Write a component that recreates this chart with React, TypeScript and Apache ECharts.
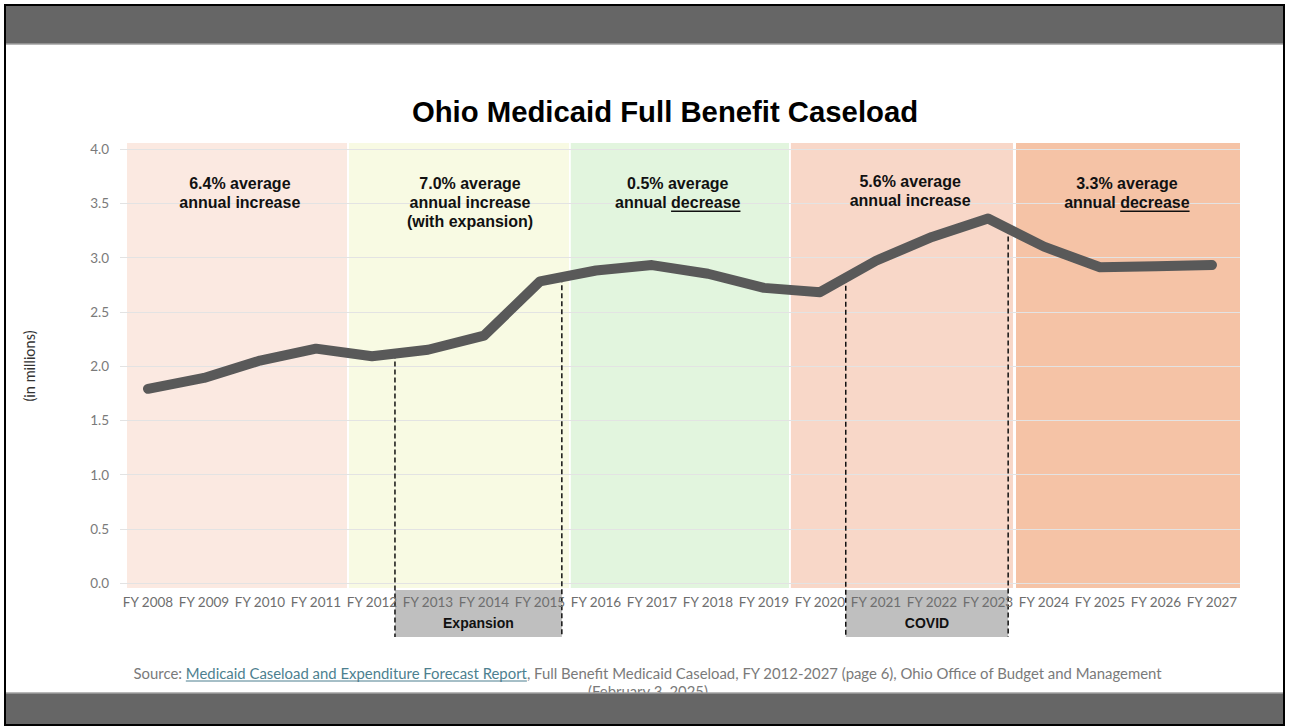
import React, { useEffect, useRef } from 'react';
import * as echarts from 'echarts';

const categories = [
  'FY 2008', 'FY 2009', 'FY 2010', 'FY 2011', 'FY 2012', 'FY 2013', 'FY 2014',
  'FY 2015', 'FY 2016', 'FY 2017', 'FY 2018', 'FY 2019', 'FY 2020', 'FY 2021',
  'FY 2022', 'FY 2023', 'FY 2024', 'FY 2025', 'FY 2026', 'FY 2027',
];
const caseload = [
  1.79, 1.89, 2.05, 2.16, 2.09, 2.15, 2.28, 2.78, 2.88, 2.93,
  2.85, 2.72, 2.68, 2.97, 3.19, 3.36, 3.10, 2.91, 2.92, 2.93,
];
const yMin = 0;
const yMax = 4;
const yInterval = 0.5;

const periodFrom = [-0.375, 3.59, 7.55, 11.48, 15.5];
const periodTo = [3.554, 7.518, 11.446, 15.446, 19.5];
const periodColors = ['#fbe9e1', '#f8fae3', '#e2f5de', '#f8d7c8', '#f5c3a6'];
const periodLabels = [
  ['6.4% average', 'annual increase'],
  ['7.0% average', 'annual increase', '(with expansion)'],
  ['0.5% average', 'annual |decrease'],
  ['5.6% average', 'annual increase'],
  ['3.3% average', 'annual |decrease'],
];
const periodLabelX = [1.64, 5.75, 9.46, 13.61, 17.48];
const periodLabelY = [3.68, 3.68, 3.68, 3.70, 3.68];

const eventNames = ['Expansion', 'COVID'];
const eventFrom = [4.41, 12.46];
const eventTo = [7.39, 15.36];

const titleText = 'Ohio Medicaid Full Benefit Caseload';
const yAxisName = '(in millions)';
const sourcePrefix = 'Source: ';
const sourceLink = 'Medicaid Caseload and Expenditure Forecast Report';
const sourceRest = ', Full Benefit Medicaid Caseload, FY 2012-2027 (page 6), Ohio Office of Budget and Management';
const sourceLine2 = '(February 3, 2025)';

const W = 1289;
const H = 728;

function measure(text: string, font: string): number {
  const c = document.createElement('canvas').getContext('2d');
  if (!c) return text.length * 7;
  c.font = font;
  return c.measureText(text).width;
}

function valueAt(x: number): number {
  const i = Math.max(0, Math.min(caseload.length - 2, Math.floor(x)));
  const t = x - i;
  return caseload[i] + (caseload[i + 1] - caseload[i]) * t;
}

export default function App() {
  const ref = useRef<HTMLDivElement>(null);
  useEffect(() => {
    if (!ref.current) return;
    const chart = echarts.init(ref.current, null, { renderer: 'svg' });
    chart.setOption({
      animation: false,
      backgroundColor: '#ffffff',
      grid: { left: 120, right: 49, top: 149, bottom: 145, containLabel: false },
      xAxis: [
        {
          type: 'category',
          data: categories,
          boundaryGap: true,
          axisLine: { show: false },
          axisTick: { show: false },
          axisLabel: { color: '#6e6e6e', fontFamily: 'Lato', fontSize: 13.5, margin: 12, interval: 0 },
          splitLine: { show: false },
          z: 3,
        },
        { type: 'value', min: -0.5, max: 19.5, show: false },
      ],
      yAxis: {
        type: 'value',
        min: yMin,
        max: yMax,
        interval: yInterval,
        name: yAxisName,
        nameLocation: 'middle',
        nameGap: 83,
        nameTextStyle: { color: '#333', fontFamily: 'Lato', fontSize: 14.5 },
        axisLine: { show: false },
        axisTick: { show: false },
        axisLabel: {
          color: '#7a7a7a',
          fontFamily: 'Lato',
          fontSize: 13.5,
          margin: 11,
          formatter: (v: number) => v.toFixed(1),
        },
        splitLine: { lineStyle: { color: '#e3e3e3', width: 1 } },
      },
      series: [
        {
          type: 'line',
          data: caseload,
          symbol: 'none',
          smooth: false,
          z: 4,
          lineStyle: { color: '#595959', width: 10, cap: 'round', join: 'round' },
        },
      ],
    });

    const px = (x: number) => chart.convertToPixel({ xAxisIndex: 1 }, x) as number;
    const py = (y: number) => chart.convertToPixel({ yAxisIndex: 0 }, y) as number;

    const elements: any[] = [];
    const top = py(yMax) - 6;
    const bottom = py(yMin) + 5;

    periodFrom.forEach((f, i) => {
      const x0 = px(f);
      const x1 = px(periodTo[i]);
      elements.push({
        type: 'rect',
        z: -5,
        silent: true,
        shape: { x: x0, y: top, width: x1 - x0, height: bottom - top },
        style: { fill: periodColors[i] },
      });
    });

    const labelFont = 'bold 16px "Liberation Sans", Arial, sans-serif';
    periodLabels.forEach((lines, i) => {
      const cx = px(periodLabelX[i]);
      const cy0 = py(periodLabelY[i]);
      lines.forEach((ln, j) => {
        const parts = ln.split('|');
        const full = parts.join('');
        const cy = cy0 + j * 19;
        elements.push({
          type: 'text',
          z: 20,
          silent: true,
          x: cx,
          y: cy,
          style: {
            text: full,
            fill: '#111',
            font: labelFont,
            align: 'center',
            verticalAlign: 'middle',
          },
        });
        if (parts.length > 1) {
          const wFull = measure(full, labelFont);
          const wU = measure(parts[1], labelFont);
          const xEnd = cx + wFull / 2;
          elements.push({
            type: 'line',
            z: 20,
            silent: true,
            shape: { x1: xEnd - wU, y1: cy + 8.5, x2: xEnd, y2: cy + 8.5 },
            style: { stroke: '#111', lineWidth: 1.5 },
          });
        }
      });
    });

    const boxTop = py(yMin) + 7;
    const boxBottom = py(yMin) + 54;
    eventNames.forEach((name, i) => {
      const x0 = px(eventFrom[i]);
      const x1 = px(eventTo[i]);
      elements.push({
        type: 'rect',
        z: -5,
        silent: true,
        shape: { x: x0, y: boxTop, width: x1 - x0, height: boxBottom - boxTop },
        style: { fill: '#bfbfbf' },
      });
      elements.push({
        type: 'text',
        z: 20,
        silent: true,
        x: (x0 + x1) / 2,
        y: boxTop + 33,
        style: {
          text: name,
          fill: '#111',
          font: 'bold 14px "Liberation Sans", Arial, sans-serif',
          align: 'center',
          verticalAlign: 'middle',
        },
      });
      [eventFrom[i], eventTo[i]].forEach((xv) => {
        const xp = px(xv);
        elements.push({
          type: 'line',
          z: 3,
          silent: true,
          shape: { x1: xp, y1: py(valueAt(xv)), x2: xp, y2: boxBottom },
          style: { stroke: '#111', lineWidth: 1.5, lineDash: [5, 3] },
        });
      });
    });

    // Title
    elements.push({
      type: 'text',
      z: 20,
      silent: true,
      x: 665,
      y: 111,
      style: {
        text: titleText,
        fill: '#000',
        font: 'bold 29.3px "Liberation Sans", Arial, sans-serif',
        align: 'center',
        verticalAlign: 'middle',
      },
    });

    // Source
    const srcFont = '14.9px Lato, sans-serif';
    const wPre = measure(sourcePrefix, srcFont);
    const wLink = measure(sourceLink, srcFont);
    const wRest = measure(sourceRest, srcFont);
    const wTotal = wPre + wLink + wRest;
    const sx = 648 - wTotal / 2;
    const sy = 673;
    elements.push({
      type: 'text', z: 20, silent: true, x: sx, y: sy,
      style: { text: sourcePrefix, fill: '#7a7a7a', font: srcFont, align: 'left', verticalAlign: 'middle' },
    });
    elements.push({
      type: 'text', z: 20, silent: true, x: sx + wPre, y: sy,
      style: { text: sourceLink, fill: '#4d7f8f', font: srcFont, align: 'left', verticalAlign: 'middle' },
    });
    elements.push({
      type: 'line', z: 20, silent: true,
      shape: { x1: sx + wPre, y1: sy + 8, x2: sx + wPre + wLink, y2: sy + 8 },
      style: { stroke: '#4d7f8f', lineWidth: 1 },
    });
    elements.push({
      type: 'text', z: 20, silent: true, x: sx + wPre + wLink, y: sy,
      style: { text: sourceRest, fill: '#7a7a7a', font: srcFont, align: 'left', verticalAlign: 'middle' },
    });
    elements.push({
      type: 'text', z: 20, silent: true, x: 648, y: sy + 18,
      style: { text: sourceLine2, fill: '#7a7a7a', font: srcFont, align: 'center', verticalAlign: 'middle' },
    });

    // Frame
    elements.push({
      type: 'rect', z: 30, silent: true,
      shape: { x: 5, y: 5, width: W - 10, height: 39 },
      style: { fill: '#666666' },
    });
    elements.push({
      type: 'line', z: 30, silent: true,
      shape: { x1: 5, y1: 44, x2: W - 5, y2: 44 },
      style: { stroke: '#a0a0a0', lineWidth: 1.5 },
    });
    elements.push({
      type: 'rect', z: 30, silent: true,
      shape: { x: 5, y: 693, width: W - 10, height: 33 },
      style: { fill: '#666666' },
    });
    elements.push({
      type: 'line', z: 30, silent: true,
      shape: { x1: 5, y1: 693, x2: W - 5, y2: 693 },
      style: { stroke: '#a0a0a0', lineWidth: 1.5 },
    });
    elements.push({
      type: 'rect', z: 31, silent: true,
      shape: { x: 5, y: 5, width: W - 10, height: H - 8 },
      style: { fill: 'none', stroke: '#000', lineWidth: 2 },
    });

    chart.setOption({ graphic: { elements } });

    return () => chart.dispose();
  }, []);

  return (
    <div
      ref={ref}
      style={{ position: 'absolute', left: 0, top: 0, width: W, height: H, background: '#fff' }}
    />
  );
}
